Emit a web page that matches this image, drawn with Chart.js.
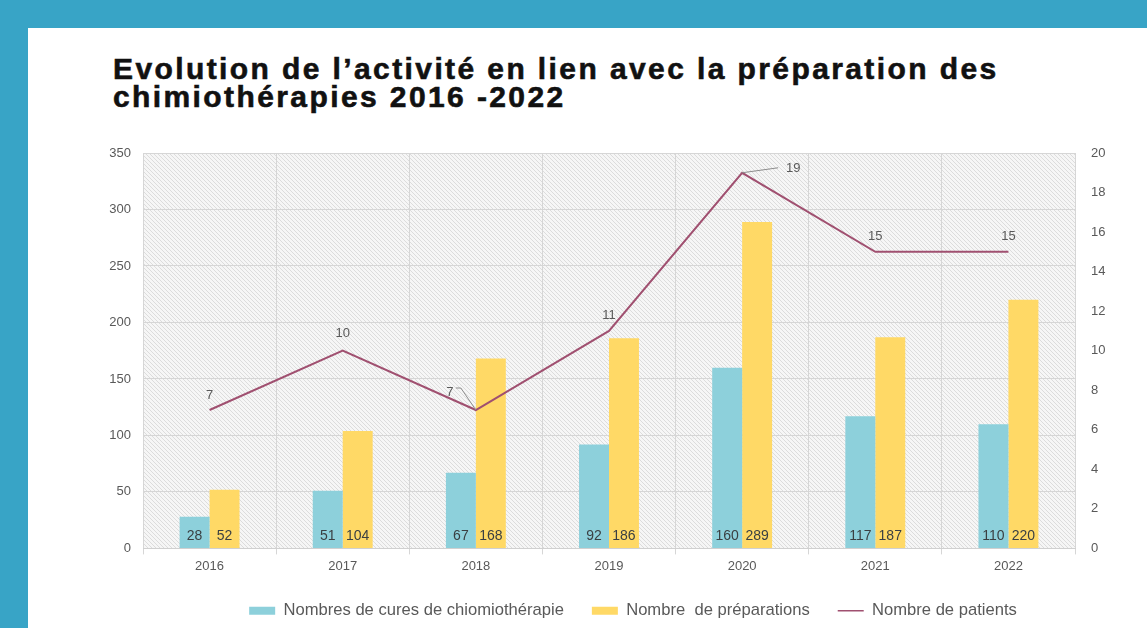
<!DOCTYPE html>
<html>
<head>
<meta charset="utf-8">
<script src="https://cdn.jsdelivr.net/npm/chart.js@4.4.1/dist/chart.umd.min.js"></script>
<style>
body { margin: 0; width: 1147px; height: 628px; background: #38a4c6; overflow: hidden; position: relative; font-family: "Liberation Sans", Arial, sans-serif; }
#panel { position: absolute; left: 28px; top: 28px; right: 0; bottom: 0; background: #fff; }
#title { position: absolute; left: 113px; top: 55px; margin: 0; font-weight: bold; font-size: 30px; line-height: 28px; letter-spacing: 2.4px; -webkit-text-stroke: 0.6px #111; color: #111; white-space: nowrap; }
#wrap { position: absolute; left: 0; top: 0; width: 1147px; height: 628px; }
</style>
</head>
<body>
<div id="panel"></div>
<h1 id="title">Evolution de l’activité en lien avec la préparation des<br>chimiothérapies 2016 -2022</h1>
<div id="wrap"><canvas id="myChart" width="1147" height="628"></canvas></div>
<script>
var blue = "rgba(141, 208, 219, 1)";
var yellow = "rgba(255, 217, 102, 1)";
var plum = "rgba(160, 80, 112, 1)";

var years = ["2016", "2017", "2018", "2019", "2020", "2021", "2022"];
var cures = [28, 51, 67, 92, 160, 117, 110];
var preparations = [52, 104, 168, 186, 289, 187, 220];
var patients = [7, 10, 7, 11, 19, 15, 15];
var seriesNames = ["Nombres de cures de chiomiothérapie", "Nombre  de préparations", "Nombre de patients"];

// where each patient count sits relative to its point
var patientLabelOffsets = [[0, -15], [0, -17], [-26, -18], [0, -16], [51, -4], [0, -15], [0, -15]];

var labelFont = "'Liberation Sans', Arial, sans-serif";

// diagonal hatching behind the plot
var hatchBg = {
    id: "hatchBg",
    beforeDraw: function (chart) {
        var a = chart.chartArea;
        var ctx = chart.ctx;
        var tile = document.createElement("canvas");
        tile.width = 4;
        tile.height = 4;
        var t = tile.getContext("2d");
        t.fillStyle = "#f6f6f6";
        t.fillRect(0, 0, 4, 4);
        t.strokeStyle = "#dcdcdc";
        t.lineWidth = 1;
        t.beginPath();
        t.moveTo(0, 0); t.lineTo(4, 4);
        t.moveTo(-1, 3); t.lineTo(1, 5);
        t.moveTo(3, -1); t.lineTo(5, 1);
        t.stroke();
        ctx.save();
        ctx.fillStyle = ctx.createPattern(tile, "repeat");
        ctx.fillRect(a.left, a.top, a.width, a.height);
        ctx.restore();
    }
};

var valueLabels = {
    id: "valueLabels",
    afterDatasetsDraw: function (chart) {
        var ctx = chart.ctx;
        var area = chart.chartArea;
        ctx.save();
        ctx.textAlign = "center";
        ctx.textBaseline = "middle";

        // bar counts sit at the foot of each bar
        ctx.font = "14px " + labelFont;
        ctx.fillStyle = "#3a3f42";
        [0, 1].forEach(function (d) {
            chart.getDatasetMeta(d).data.forEach(function (bar, i) {
                ctx.fillText(chart.data.datasets[d].data[i], bar.x, area.bottom - 12);
            });
        });

        // patient counts above the line, two with leader lines
        ctx.font = "13px " + labelFont;
        ctx.fillStyle = "#595959";
        ctx.strokeStyle = "#8c8c8c";
        ctx.lineWidth = 1;
        chart.getDatasetMeta(2).data.forEach(function (pt, i) {
            var off = patientLabelOffsets[i];
            var lx = pt.x + off[0];
            var ly = pt.y + off[1];
            if (off[0] < -10) {
                ctx.beginPath();
                ctx.moveTo(lx + 6, ly - 4);
                ctx.lineTo(lx + 11, ly - 4);
                ctx.lineTo(pt.x, pt.y);
                ctx.stroke();
            } else if (off[0] > 10) {
                ctx.beginPath();
                ctx.moveTo(pt.x, pt.y);
                ctx.lineTo(lx - 15, ly - 1);
                ctx.stroke();
            }
            ctx.fillText(patients[i], lx, ly);
        });
        ctx.restore();
    }
};

new Chart("myChart", {
    type: "bar",
    data: {
        labels: years,
        datasets: [
            {
                label: seriesNames[0],
                data: cures,
                backgroundColor: blue,
                borderWidth: 0,
                yAxisID: "y",
                order: 1,
                barPercentage: 1,
                categoryPercentage: 0.45
            },
            {
                label: seriesNames[1],
                data: preparations,
                backgroundColor: yellow,
                borderWidth: 0,
                yAxisID: "y",
                order: 1,
                barPercentage: 1,
                categoryPercentage: 0.45
            },
            {
                type: "line",
                label: seriesNames[2],
                data: patients,
                borderColor: plum,
                backgroundColor: plum,
                borderWidth: 2,
                pointRadius: 0,
                tension: 0,
                yAxisID: "y1",
                order: 0
            }
        ]
    },
    options: {
        responsive: false,
        animation: false,
        events: [],
        layout: {
            // right side runs past the canvas so the legend centres where it should
            padding: { left: 90, right: -29, top: 153, bottom: -1 }
        },
        plugins: {
            tooltip: { enabled: false },
            title: { display: false },
            legend: {
                position: "bottom",
                labels: {
                    usePointStyle: true,
                    pointStyleWidth: 26,
                    boxHeight: 8,
                    padding: 28,
                    color: "#595959",
                    font: { size: 16.6, family: labelFont },
                    generateLabels: function (chart) {
                        var items = Chart.defaults.plugins.legend.labels.generateLabels(chart);
                        items.sort(function (a, b) { return a.datasetIndex - b.datasetIndex; });
                        items.forEach(function (it) {
                            if (it.datasetIndex < 2) {
                                it.pointStyle = "rect";
                                it.lineWidth = 0;
                            } else {
                                it.pointStyle = "line";
                                it.lineWidth = 1.5;
                            }
                        });
                        return items;
                    }
                }
            }
        },
        scales: {
            x: {
                offset: true,
                grid: { color: "#d6d6d6", offset: true, drawTicks: true, tickLength: 6 },
                border: { color: "#d0d0d0" },
                ticks: { color: "#595959", font: { size: 13, family: labelFont }, padding: 4 },
                afterFit: function (s) { s.height = 26; }
            },
            y: {
                position: "left",
                min: 0,
                max: 350,
                grid: { color: "#d6d6d6", drawTicks: false },
                border: { display: false },
                ticks: { stepSize: 50, color: "#595959", font: { size: 13, family: labelFont }, padding: 12 },
                afterFit: function (s) { s.width = 53; }
            },
            y1: {
                position: "right",
                min: 0,
                max: 20,
                grid: { display: false, drawTicks: false },
                border: { display: false },
                ticks: { stepSize: 2, color: "#595959", font: { size: 13, family: labelFont }, padding: 16 },
                afterFit: function (s) { s.width = 101; }
            }
        }
    },
    plugins: [hatchBg, valueLabels]
});
</script>
</body>
</html>
